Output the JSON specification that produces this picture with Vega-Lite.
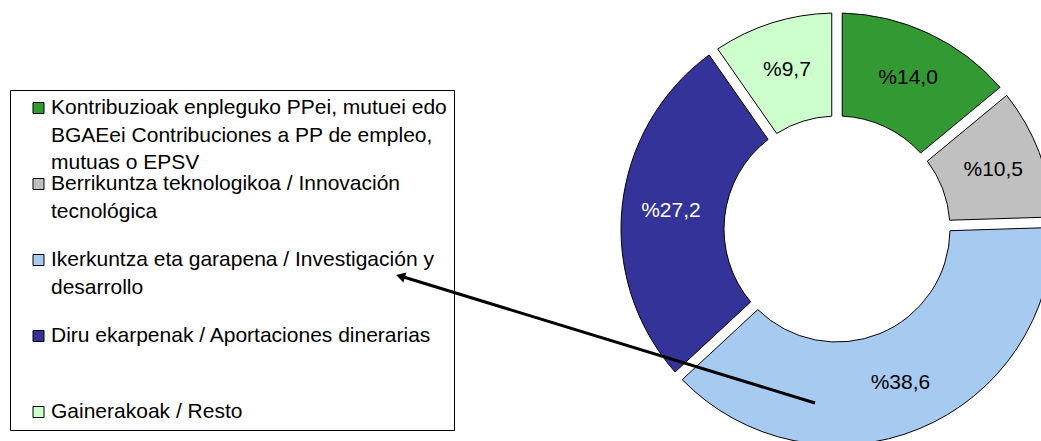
{
  "$schema": "https://vega.github.io/schema/vega-lite/v6.json",
  "autosize": {"type": "none"},
  "padding": {"left": 633, "top": 17, "right": 0, "bottom": 0},
  "width": 408,
  "height": 424,
  "background": "white",
  "config": {
    "view": {"stroke": null},
    "style": {"guide-label": {"lineHeight": 27.5}}
  },
  "data": {
    "values": [
      {"cat": "Kontribuzioak enpleguko PPei, mutuei edo\nBGAEei  Contribuciones a PP de empleo,\nmutuas o EPSV", "pct": 14.0, "lbl": "%14,0", "n": 1},
      {"cat": "Berrikuntza teknologikoa /  Innovación\ntecnológica", "pct": 10.5, "lbl": "%10,5", "n": 2},
      {"cat": "Ikerkuntza eta garapena / Investigación y\ndesarrollo", "pct": 38.6, "lbl": "%38,6", "n": 3},
      {"cat": "Diru ekarpenak / Aportaciones dinerarias", "pct": 27.2, "lbl": "%27,2", "n": 4},
      {"cat": "Gainerakoak / Resto", "pct": 9.7, "lbl": "%9,7", "n": 5}
    ]
  },
  "layer": [
    {
      "mark": {"type": "arc", "outerRadius": 216, "innerRadius": 113, "padAngle": 0.043, "stroke": "black", "strokeWidth": 1},
      "encoding": {
        "theta": {"field": "pct", "type": "quantitative", "stack": true},
        "order": {"field": "n", "type": "quantitative"},
        "color": {
          "field": "cat", "type": "nominal", "sort": null,
          "scale": {"range": ["#339933", "#C0C0C0", "#A6CAF0", "#333399", "#CCFFCC"]},
          "legend": {
            "orient": "none", "legendX": -623, "legendY": 73, "title": null,
            "strokeColor": "black", "fillColor": null, "padding": 7, "cornerRadius": 0,
            "symbolType": "square", "symbolSize": 121, "symbolStrokeColor": "black", "symbolStrokeWidth": 1,
            "symbolOffset": 11, "labelOffset": 2,
            "labelFont": "Liberation Sans", "labelFontSize": 21, "labelColor": "black",
            "labelLimit": 1000, "labelBaseline": "middle",
            "labelExpr": "split(datum.label, '\\n')",
            "clipHeight": 22, "rowPadding": 0, "gridAlign": "all"
          }
        }
      }
    },
    {
      "mark": {"type": "text", "radius": 167, "font": "Liberation Sans", "fontSize": 21},
      "encoding": {
        "theta": {"field": "pct", "type": "quantitative", "stack": true},
        "order": {"field": "n", "type": "quantitative"},
        "text": {"field": "lbl"},
        "color": {"condition": {"test": "datum.n == 4", "value": "white"}, "value": "black"}
      }
    },
    {
      "data": {"values": [{}]},
      "mark": {"type": "rule", "color": "black", "strokeWidth": 3},
      "encoding": {
        "x": {"datum": 815, "type": "quantitative", "scale": {"domain": [633, 1041], "zero": false, "nice": false}, "axis": null},
        "x2": {"datum": 402},
        "y": {"datum": 403, "type": "quantitative", "scale": {"domain": [17, 441], "zero": false, "nice": false, "reverse": true}, "axis": null},
        "y2": {"datum": 276.5}
      }
    },
    {
      "data": {"values": [{}]},
      "mark": {"type": "point", "shape": "triangle-up", "filled": true, "color": "black", "opacity": 1, "size": 110, "angle": 286.6},
      "encoding": {
        "x": {"datum": 400.5, "type": "quantitative"},
        "y": {"datum": 276.2, "type": "quantitative"}
      }
    }
  ]
}
